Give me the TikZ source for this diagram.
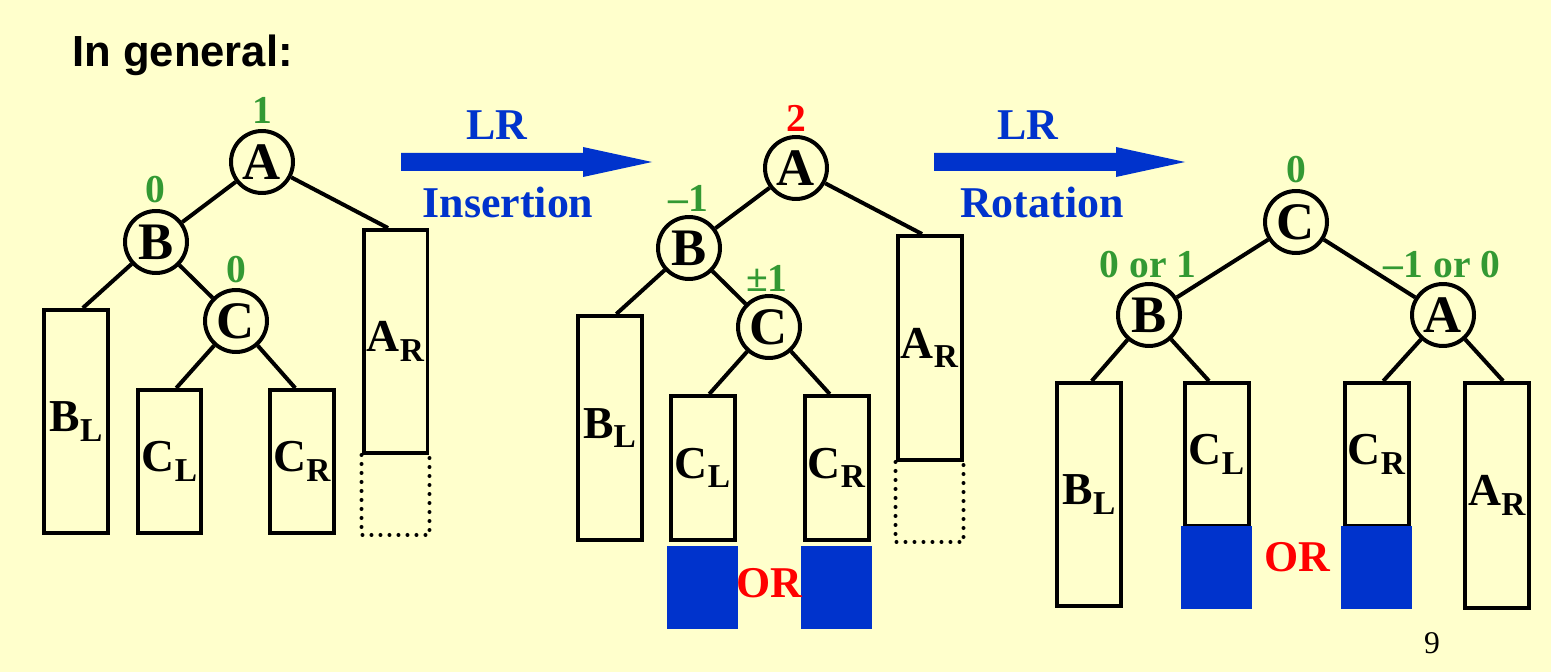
\documentclass[tikz,border=0pt]{standalone}
\usepackage{fontspec}
\setmainfont{Liberation Serif}
\newfontfamily\titulofont{Liberation Sans}
\usetikzlibrary{calc}
\definecolor{azul}{HTML}{0033CC}
\definecolor{rojo}{HTML}{FF0000}
\definecolor{verde}{HTML}{339933}
\definecolor{fondo}{HTML}{FFFFCC}
\newcommand{\sublab}[2]{#1\raisebox{-5.5pt}{\fontsize{19}{19}\selectfont #2}}

\begin{document}
\begin{tikzpicture}[x=0.02cm,y=-0.02cm,
    nodo/.style={circle,draw,line width=0.08cm,minimum size=1.24cm,inner sep=0pt,fill=fondo,
        font=\fontsize{30}{30}\selectfont\bfseries},
    arbol/.style={rectangle,draw,line width=0.08cm,minimum width=1.28cm,inner sep=0pt,
        font=\fontsize{26}{26}\selectfont\bfseries},
    rama/.style={line width=0.08cm},
    hueco/.style={line width=0.08cm,dash pattern=on 0pt off 0.18cm,line cap=round},
    bloque/.style={fill=azul,minimum width=1.42cm,minimum height=1.66cm,inner sep=0pt},
    bal/.style={verde,inner sep=0pt,font=\fontsize{22.5}{22.5}\selectfont\bfseries},
    paso/.style={azul,inner sep=0pt,font=\fontsize{25}{25}\selectfont\bfseries},
    alterna/.style={rojo,inner sep=0pt,font=\fontsize{25}{25}\selectfont\bfseries}]
    % ---- Fondo ----
    \fill[fondo] (0,0) rectangle (1551,672);
    \useasboundingbox (0,0) rectangle (1551,672);
    \node[anchor=base west,inner sep=0pt,font=\titulofont\fontsize{24.8}{24.8}\selectfont\bfseries]
        (titulo) at (72,67) {In general:};

    % ---- Arbol inicial ----
    \node[nodo] (A1) at (262,162) {A};
    \node[nodo] (B1) at (156,242) {B};
    \node[nodo] (C1) at (236,321) {C};
    \node[arbol,minimum height=4.46cm] (BL1) at (76,421.5) {\sublab{B}{L}};
    \node[arbol,minimum height=2.86cm] (CL1) at (169.5,461.5) {\sublab{C}{L}};
    \node[arbol,minimum height=2.86cm] (CR1) at (302,461.5) {\sublab{C}{R}};
    \node[arbol,minimum height=4.46cm] (AR1) at (395.5,341.5) {\sublab{A}{R}};
    \node[bal] (fA1) at (262,110) {1};
    \node[bal] (fB1) at (155,190) {0};
    \node[bal] (fC1) at (236,270) {0};
    \draw[rama] (A1) -- (B1);
    \draw[rama] (B1) -- (C1);
    \draw[rama] (A1) -- ($(AR1.north west)!0.39!(AR1.north east)$);
    \draw[rama] (B1) -- ($(BL1.north west)!0.6!(BL1.north east)$);
    \draw[rama] (C1) -- ($(CL1.north west)!0.6!(CL1.north east)$);
    \draw[rama] (C1) -- ($(CR1.north west)!0.4!(CR1.north east)$);
    \draw[hueco] (AR1.south west) -- ++(0,80) -| (AR1.south east);

    % ---- Flecha: insercion ----
    \coordinate (ini1) at (401,162);
    \coordinate (fin1) at (652,162);
    \fill[azul] ($(ini1)+(0,-9)$) -- ($(fin1)+(-69,-9)$) -- ($(fin1)+(-69,-15)$) -- (fin1)
        -- ($(fin1)+(-69,15)$) -- ($(fin1)+(-69,9)$) -- ($(ini1)+(0,9)$) -- cycle;
    \node[paso] (lr1) at (497,125) {LR};
    \node[paso] (ins) at (508,202) {Insertion};

    % ---- Arbol tras insertar ----
    \node[nodo] (A2) at (796,168) {A};
    \node[nodo] (B2) at (689,248) {B};
    \node[nodo] (C2) at (769,327) {C};
    \node[arbol,minimum height=4.48cm] (BL2) at (609.5,428) {\sublab{B}{L}};
    \node[arbol,minimum height=2.88cm] (CL2) at (702.5,468) {\sublab{C}{L}};
    \node[arbol,minimum height=2.88cm] (CR2) at (836.5,468) {\sublab{C}{R}};
    \node[arbol,minimum height=4.48cm] (AR2) at (929.5,348) {\sublab{A}{R}};
    \node[rojo,inner sep=0pt,font=\fontsize{22.5}{22.5}\selectfont\bfseries] (fA2) at (796,118) {2};
    \node[bal] (fB2) at (688,198) {–1};
    \node[bal] (fC2) at (767,278) {±1};
    \draw[rama] (A2) -- (B2);
    \draw[rama] (B2) -- (C2);
    \draw[rama] (A2) -- ($(AR2.north west)!0.39!(AR2.north east)$);
    \draw[rama] (B2) -- ($(BL2.north west)!0.6!(BL2.north east)$);
    \draw[rama] (C2) -- ($(CL2.north west)!0.6!(CL2.north east)$);
    \draw[rama] (C2) -- ($(CR2.north west)!0.4!(CR2.north east)$);
    \draw[hueco] (AR2.south west) -- ++(0,80) -| (AR2.south east);
    \node[bloque] (nCL2) at (702.5,587.5) {};
    \node[bloque] (nCR2) at (836,587.5) {};
    \node[alterna] (or2) at (769,583) {OR};

    % ---- Flecha: rotacion ----
    \coordinate (ini2) at (934,162);
    \coordinate (fin2) at (1185,162);
    \fill[azul] ($(ini2)+(0,-9)$) -- ($(fin2)+(-69,-9)$) -- ($(fin2)+(-69,-15)$) -- (fin2)
        -- ($(fin2)+(-69,15)$) -- ($(fin2)+(-69,9)$) -- ($(ini2)+(0,9)$) -- cycle;
    \node[paso] (lr2) at (1028,125) {LR};
    \node[paso] (rot) at (1042,202) {Rotation};

    % ---- Arbol rotado ----
    \node[nodo] (C3) at (1296,222) {C};
    \node[nodo] (B3) at (1149,315) {B};
    \node[nodo] (A3) at (1443,315) {A};
    \node[arbol,minimum height=4.46cm] (BL3) at (1089,494.5) {\sublab{B}{L}};
    \node[arbol,minimum height=2.86cm] (CL3) at (1216.5,454.5) {\sublab{C}{L}};
    \node[arbol,minimum height=2.86cm] (CR3) at (1376.5,454.5) {\sublab{C}{R}};
    \node[arbol,minimum height=4.5cm] (AR3) at (1497,495.5) {\sublab{A}{R}};
    \node[bal] (fC3) at (1296,170) {0};
    \node[bal] (fB3) at (1148,265) {0 or 1};
    \node[bal] (fA3) at (1442,265) {–1 or 0};
    \draw[rama] (C3) -- (B3);
    \draw[rama] (C3) -- (A3);
    \draw[rama] (B3) -- ($(BL3.north west)!0.54!(BL3.north east)$);
    \draw[rama] (B3) -- ($(CL3.north west)!0.39!(CL3.north east)$);
    \draw[rama] (A3) -- ($(CR3.north west)!0.6!(CR3.north east)$);
    \draw[rama] (A3) -- ($(AR3.north west)!0.59!(AR3.north east)$);
    \node[bloque] (nCL3) at (1216.5,567.5) {};
    \node[bloque] (nCR3) at (1376.5,567.5) {};
    \node[alterna] (or3) at (1297,557) {OR};

    \node[inner sep=0pt,font=\fontsize{18}{18}\selectfont] (pagina) at (1432,643) {9};
\end{tikzpicture}
\end{document}
